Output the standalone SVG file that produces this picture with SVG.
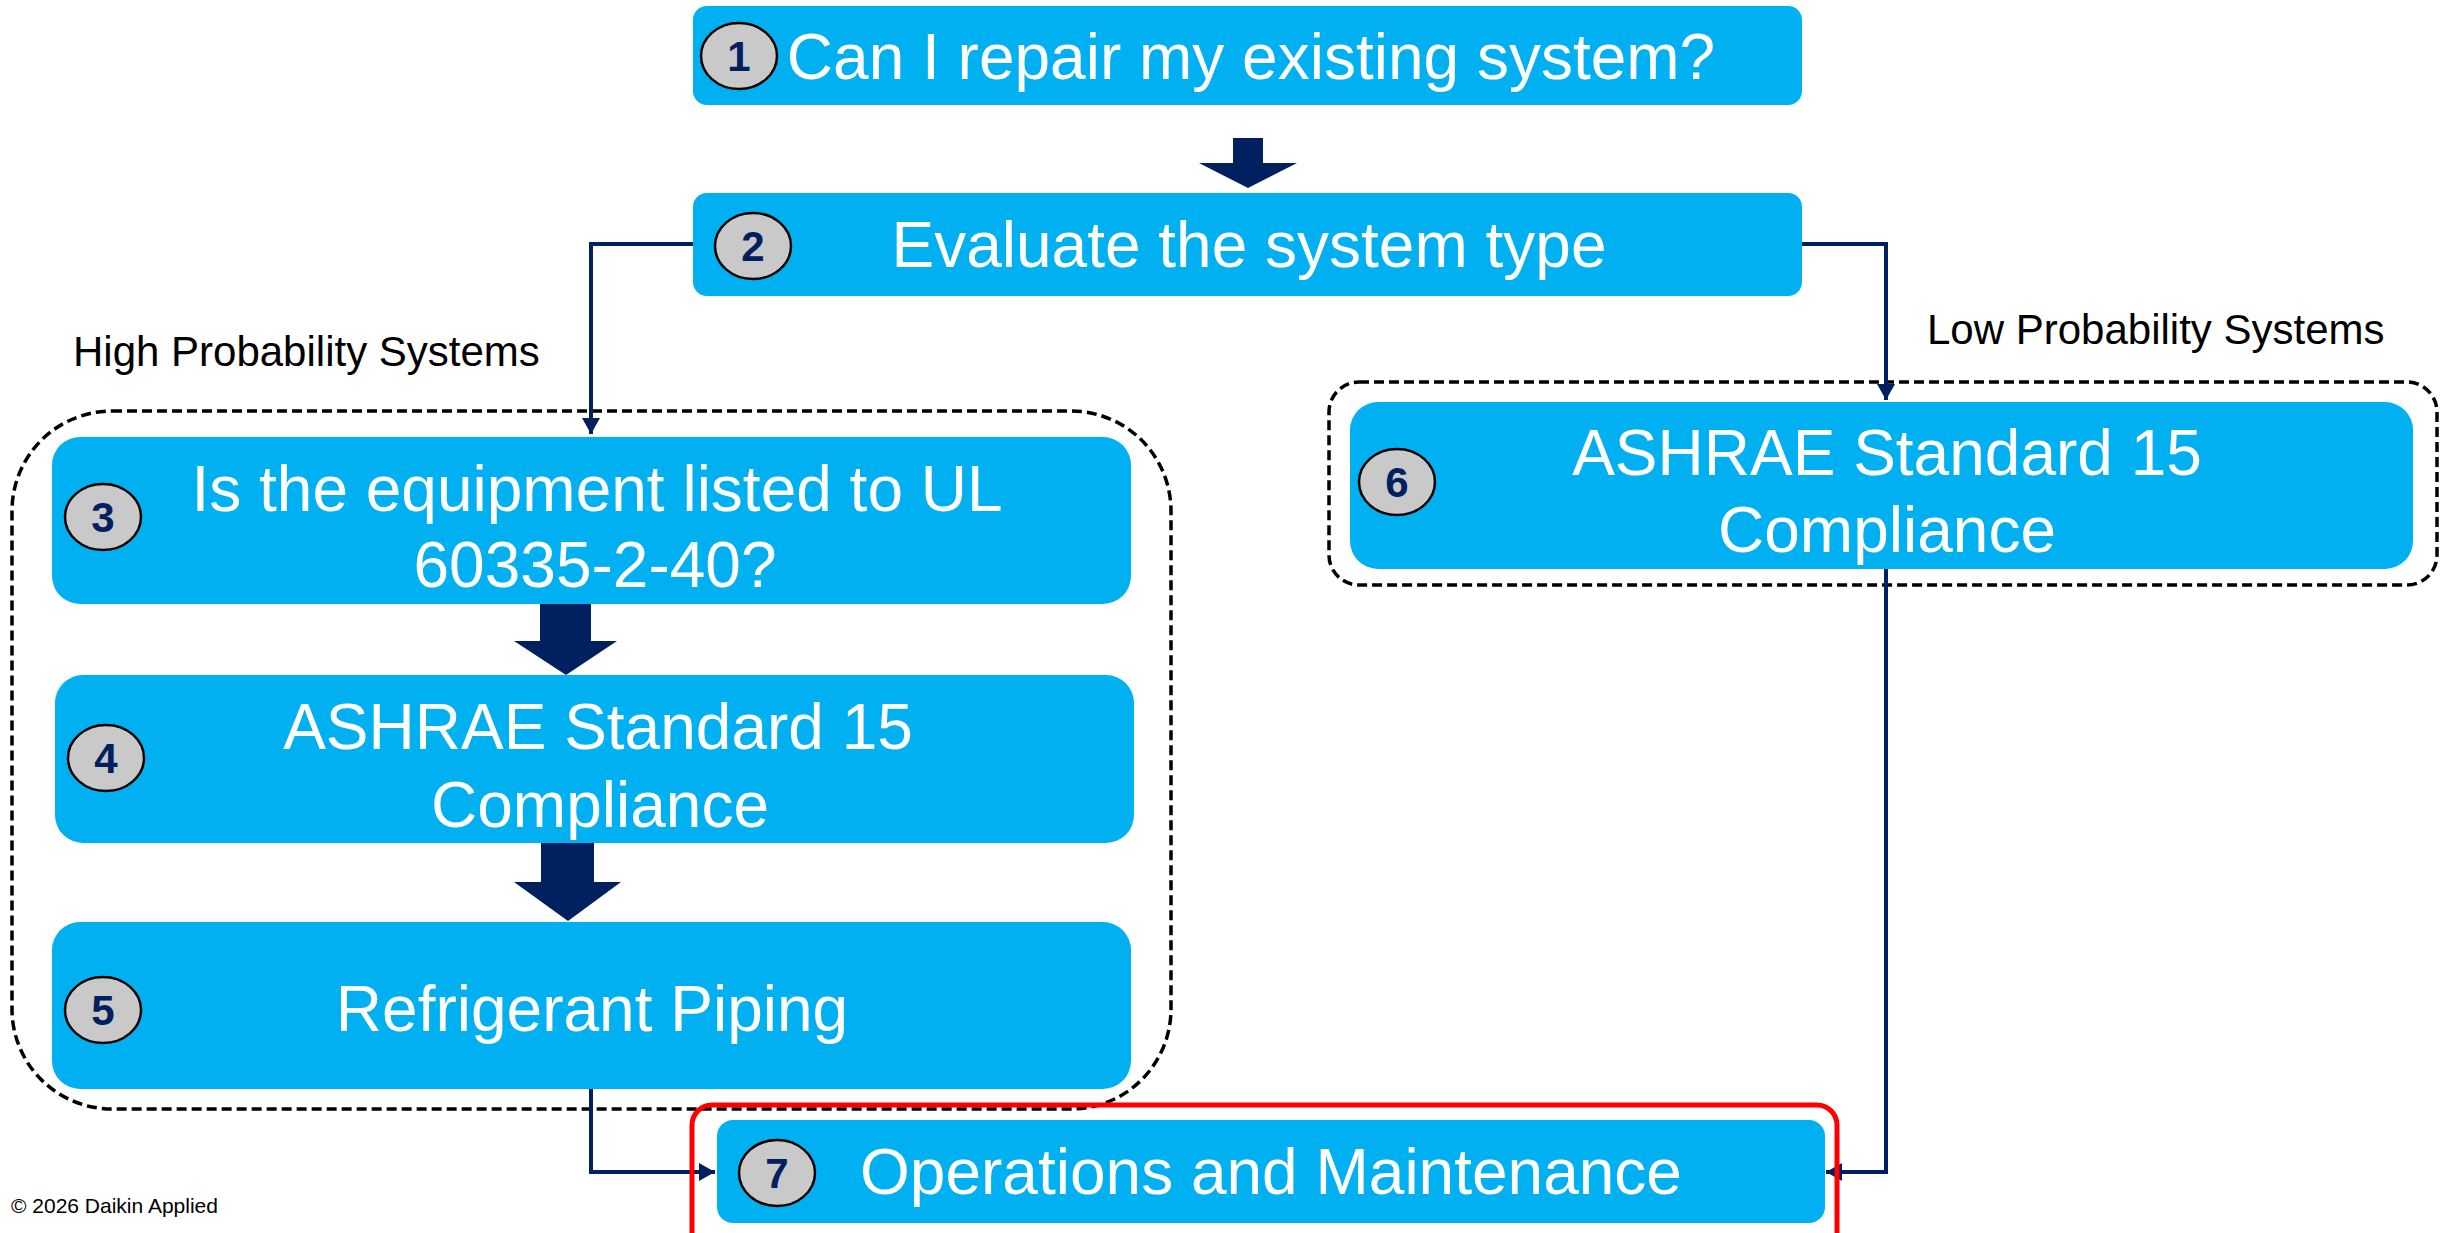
<svg xmlns="http://www.w3.org/2000/svg" width="2440" height="1233" viewBox="0 0 2440 1233">
<defs>
<style>
.box{fill:#00B0F0;}
.txt{fill:#FFFFFF;font-family:"Liberation Sans",Arial,sans-serif;font-size:64px;text-anchor:middle;}
.badge{fill:#C9C9C9;stroke:#000000;stroke-width:2.5;}
.num{fill:#002060;font-family:"Liberation Sans",Arial,sans-serif;font-size:42px;font-weight:bold;text-anchor:middle;}
.lbl{fill:#000000;font-family:"Liberation Sans",Arial,sans-serif;font-size:42px;}
.group{fill:none;stroke:#000000;stroke-width:3.5;stroke-dasharray:10 5;}
.conn{fill:none;stroke:#002060;stroke-width:4;}
.block{fill:#002060;}
</style>
<marker id="ah" markerUnits="userSpaceOnUse" markerWidth="18" markerHeight="18" viewBox="0 0 16 18" refX="16" refY="9" orient="auto">
<path d="M0,0 L16,9 L0,18 Z" fill="#002060"/>
</marker>
</defs>
<rect width="2440" height="1233" fill="#FFFFFF"/>

<g id="groups">
<rect id="high-group" class="group" x="12" y="411" width="1159" height="698" rx="100" ry="100"/>
<rect id="low-group" class="group" x="1329" y="382" width="1108" height="203" rx="30" ry="30"/>
<text class="lbl" x="73" y="366">High Probability Systems</text>
<text class="lbl" x="1927" y="344">Low Probability Systems</text>
</g>

<g id="connectors">
<polyline class="conn" points="693,244 591,244 591,434" marker-end="url(#ah)"/>
<polyline class="conn" points="1802,244 1886,244 1886,400" marker-end="url(#ah)"/>
<polyline class="conn" points="591,1088 591,1172 715,1172" marker-end="url(#ah)"/>
<polyline class="conn" points="1886,557 1886,1172 1826,1172" marker-end="url(#ah)"/>
<polygon class="block" points="1233,138 1263,138 1263,163 1297,163 1248,188 1199,163 1233,163"/>
<polygon class="block" points="540,604 591,604 591,641 617,641 566,675 514,641 540,641"/>
<polygon class="block" points="541,843 594,843 594,882 621,882 568,921 514,882 541,882"/>
</g>

<g id="node1">
<rect class="box" x="693" y="6" width="1109" height="99" rx="14"/>
<ellipse class="badge" cx="739" cy="56" rx="38" ry="33"/>
<text class="num" x="739" y="71">1</text>
<text class="txt" x="1251" y="79">Can I repair my existing system?</text>
</g>

<g id="node2">
<rect class="box" x="693" y="193" width="1109" height="103" rx="14"/>
<ellipse class="badge" cx="753" cy="246" rx="38" ry="33"/>
<text class="num" x="753" y="261">2</text>
<text class="txt" x="1249" y="267">Evaluate the system type</text>
</g>

<g id="node3">
<rect class="box" x="52" y="437" width="1079" height="167" rx="28"/>
<ellipse class="badge" cx="103" cy="517" rx="38" ry="33"/>
<text class="num" x="103" y="532">3</text>
<text class="txt" x="597" y="511">Is the equipment listed to UL</text>
<text class="txt" x="595" y="587">60335-2-40?</text>
</g>

<g id="node4">
<rect class="box" x="55" y="675" width="1079" height="168" rx="28"/>
<ellipse class="badge" cx="106" cy="758" rx="38" ry="33"/>
<text class="num" x="106" y="773">4</text>
<text class="txt" x="598" y="749">ASHRAE Standard 15</text>
<text class="txt" x="600" y="827">Compliance</text>
</g>

<g id="node5">
<rect class="box" x="52" y="922" width="1079" height="167" rx="28"/>
<ellipse class="badge" cx="103" cy="1010" rx="38" ry="33"/>
<text class="num" x="103" y="1025">5</text>
<text class="txt" x="592" y="1031">Refrigerant Piping</text>
</g>

<g id="node6">
<rect class="box" x="1350" y="402" width="1063" height="167" rx="28"/>
<ellipse class="badge" cx="1397" cy="482" rx="38" ry="33"/>
<text class="num" x="1397" y="497">6</text>
<text class="txt" x="1887" y="475">ASHRAE Standard 15</text>
<text class="txt" x="1887" y="552">Compliance</text>
</g>

<g id="node7">
<rect x="692" y="1105" width="1145" height="150" rx="20" fill="none" stroke="#FF0000" stroke-width="5"/>
<rect class="box" x="717" y="1120" width="1108" height="103" rx="16"/>
<ellipse class="badge" cx="777" cy="1173" rx="38" ry="33"/>
<text class="num" x="777" y="1188">7</text>
<text class="txt" x="1271" y="1194">Operations and Maintenance</text>
</g>

<text x="11" y="1213" font-family="'Liberation Sans',Arial,sans-serif" font-size="21" fill="#000000">© 2026 Daikin Applied</text>
</svg>
